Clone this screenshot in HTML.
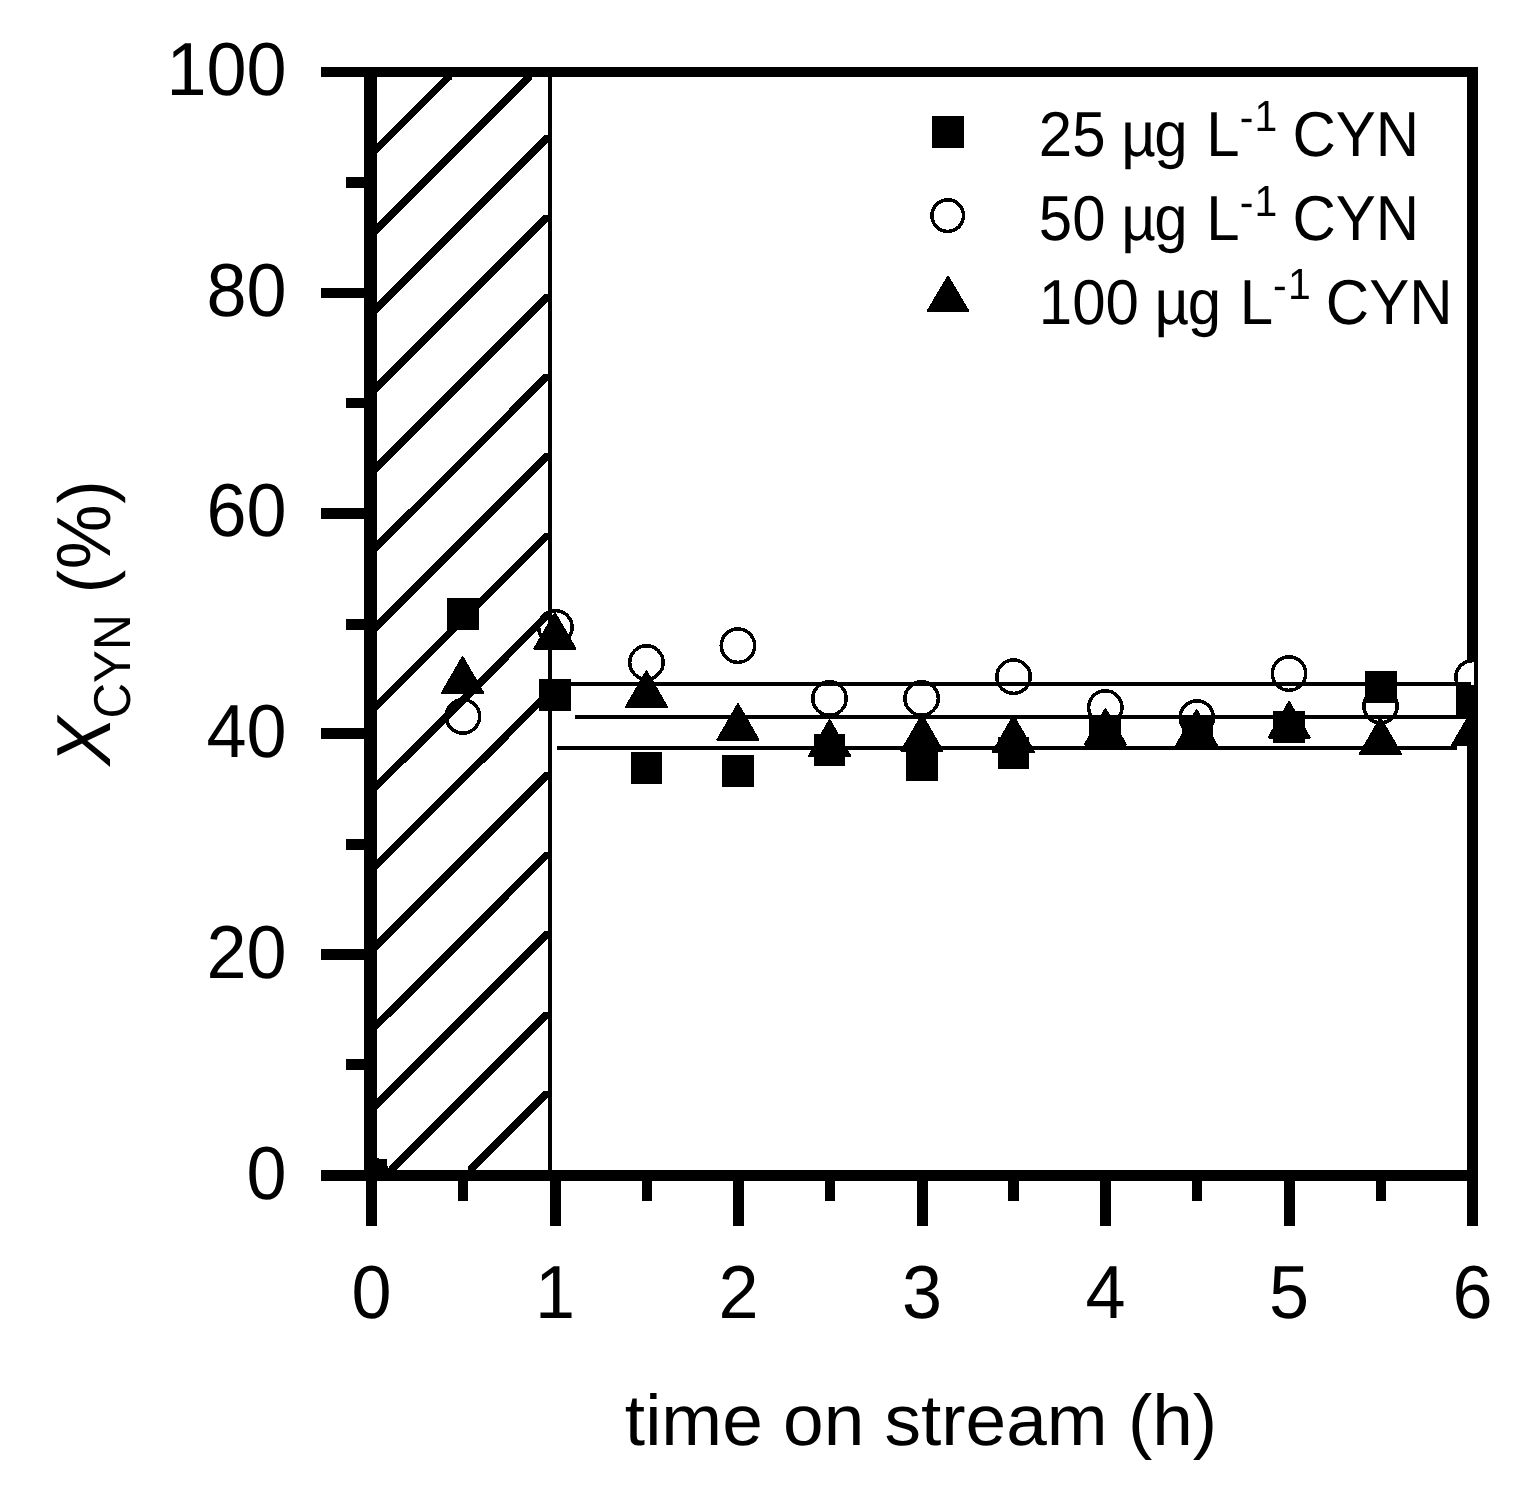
<!DOCTYPE html>
<html lang="en"><head><meta charset="utf-8">
<title>CYN conversion vs time on stream</title>
<style>
html,body{margin:0;padding:0;background:#fff;}
body{width:1527px;height:1492px;overflow:hidden;}
svg{display:block;}
text{font-family:"Liberation Sans",sans-serif;fill:#000;text-rendering:geometricPrecision;}
.tick{font-size:72px;}
.leg{font-size:60px;}
.ttl{font-size:73px;}
</style></head><body>
<svg width="1527" height="1492" viewBox="0 0 1527 1492" shape-rendering="crispEdges">
<rect x="0" y="0" width="1527" height="1492" fill="#fff"/>
<defs>
<clipPath id="pclip"><rect x="371" y="70" width="1103" height="1106"/></clipPath>
</defs>
<g fill="#000" shape-rendering="crispEdges">
<rect x="321" y="67" width="1157" height="10"/>
<rect x="321" y="1170" width="1157" height="11"/>
<rect x="366" y="67" width="11" height="1159"/>
<rect x="1467" y="67" width="11" height="1159"/>
<rect x="346" y="177" width="20" height="11"/>
<rect x="321" y="288" width="45" height="10"/>
<rect x="346" y="398" width="20" height="10"/>
<rect x="321" y="508" width="45" height="11"/>
<rect x="346" y="619" width="20" height="11"/>
<rect x="321" y="728" width="45" height="11"/>
<rect x="346" y="839" width="20" height="11"/>
<rect x="321" y="949" width="45" height="11"/>
<rect x="346" y="1059" width="20" height="11"/>
<rect x="458" y="1181" width="10" height="20"/>
<rect x="550" y="1181" width="11" height="45"/>
<rect x="642" y="1181" width="10" height="20"/>
<rect x="733" y="1181" width="11" height="45"/>
<rect x="825" y="1181" width="10" height="20"/>
<rect x="917" y="1181" width="11" height="45"/>
<rect x="1008" y="1181" width="11" height="20"/>
<rect x="1100" y="1181" width="11" height="45"/>
<rect x="1192" y="1181" width="10" height="20"/>
<rect x="1284" y="1181" width="11" height="45"/>
<rect x="1376" y="1181" width="10" height="20"/>
</g>
<g clip-path="url(#pclip)">
<g fill="#fff" stroke="#000" stroke-width="3.5">
<circle cx="371.5" cy="1175.5" r="16.7"/>
<circle cx="462.90" cy="716.40" r="16.7"/>
<circle cx="555.40" cy="627.30" r="16.7"/>
<circle cx="646.45" cy="662.50" r="16.7"/>
<circle cx="737.95" cy="645.65" r="16.7"/>
<circle cx="829.50" cy="698.50" r="16.7"/>
<circle cx="921.60" cy="698.50" r="16.7"/>
<circle cx="1013.55" cy="676.65" r="16.7"/>
<circle cx="1105.30" cy="707.50" r="16.7"/>
<circle cx="1196.80" cy="717.55" r="16.7"/>
<circle cx="1289.00" cy="673.60" r="16.7"/>
<circle cx="1380.50" cy="706.10" r="16.7"/>
<circle cx="1472.50" cy="677.40" r="16.7"/>
</g>
<g fill="#000">
<rect x="356" y="1159" width="31" height="31"/>
<rect x="447" y="598" width="32" height="32"/>
<rect x="539" y="679" width="32" height="32"/>
<rect x="631" y="752" width="31" height="32"/>
<rect x="722" y="755" width="32" height="32"/>
<rect x="814" y="734" width="31" height="32"/>
<rect x="906" y="749" width="32" height="32"/>
<rect x="998" y="737" width="31" height="32"/>
<rect x="1089" y="716" width="32" height="32"/>
<rect x="1181.5" y="716" width="31.5" height="32"/>
<rect x="1273" y="711" width="32" height="32"/>
<rect x="1365" y="671" width="32" height="32"/>
<rect x="1456" y="685" width="32" height="32"/>
</g>
<g fill="#000" stroke="#000" stroke-width="2" stroke-linejoin="round">
<path d="M462.60 657.10L483.15 692.70L442.05 692.70Z"/>
<path d="M554.90 613.10L575.45 648.70L534.35 648.70Z"/>
<path d="M646.50 671.30L667.05 706.90L625.95 706.90Z"/>
<path d="M738.00 704.20L758.55 739.80L717.45 739.80Z"/>
<path d="M829.60 720.10L850.15 755.70L809.05 755.70Z"/>
<path d="M922.00 715.20L942.55 750.80L901.45 750.80Z"/>
<path d="M1013.50 716.10L1034.05 751.70L992.95 751.70Z"/>
<path d="M1105.40 709.00L1125.95 744.60L1084.85 744.60Z"/>
<path d="M1196.60 710.10L1217.15 745.70L1176.05 745.70Z"/>
<path d="M1289.10 701.90L1309.65 737.50L1268.55 737.50Z"/>
<path d="M1380.45 718.10L1401.00 753.70L1359.90 753.70Z"/>
<path d="M1472.50 709.80L1493.05 745.40L1451.95 745.40Z"/>
</g>
</g>
<g fill="#000" stroke="none">
<polygon points="366.3,159.3 371.7,159.3 451.5,79.5 451.5,74.1 446.1,74.1 366.3,153.9"/>
<polygon points="366.3,239.4 371.7,239.4 531.6,79.5 531.6,74.1 526.2,74.1 366.3,234.0"/>
<polygon points="366.3,318.5 371.7,318.5 549.7,140.5 549.7,135.1 544.3,135.1 366.3,313.1"/>
<polygon points="366.3,398.0 371.7,398.0 549.7,220.0 549.7,214.6 544.3,214.6 366.3,392.6"/>
<polygon points="366.3,477.4 371.7,477.4 549.7,299.4 549.7,294.0 544.3,294.0 366.3,472.0"/>
<polygon points="366.3,557.1 371.7,557.1 549.7,379.1 549.7,373.7 544.3,373.7 366.3,551.7"/>
<polygon points="366.3,636.8 371.7,636.8 549.7,458.7 549.7,453.3 544.3,453.3 366.3,631.3"/>
<polygon points="366.3,716.2 371.7,716.2 549.7,538.2 549.7,532.8 544.3,532.8 366.3,710.8"/>
<polygon points="366.3,796.3 371.7,796.3 549.7,618.3 549.7,612.9 544.3,612.9 366.3,790.9"/>
<polygon points="366.3,875.3 371.7,875.3 549.7,697.3 549.7,691.9 544.3,691.9 366.3,869.9"/>
<polygon points="366.3,955.4 371.7,955.4 549.7,777.4 549.7,772.0 544.3,772.0 366.3,950.0"/>
<polygon points="366.3,1035.3 371.7,1035.3 549.7,857.3 549.7,851.9 544.3,851.9 366.3,1029.9"/>
<polygon points="366.3,1114.4 371.7,1114.4 549.7,936.4 549.7,931.0 544.3,931.0 366.3,1109.0"/>
<polygon points="388.6,1172.7 394.0,1172.7 549.7,1017.0 549.7,1011.6 544.3,1011.6 388.6,1167.3"/>
<polygon points="467.5,1172.7 472.9,1172.7 549.7,1095.9 549.7,1090.5 544.3,1090.5 467.5,1167.3"/>
</g>
<g fill="#000" shape-rendering="crispEdges">
<rect x="364" y="72" width="4" height="1103"/>
<rect x="548" y="72" width="4" height="1103"/>
<rect x="552" y="682" width="919" height="4"/>
<rect x="575" y="715" width="895" height="4"/>
<rect x="557" y="746" width="900" height="4"/>
</g>
<text class="tick" text-anchor="end" transform="translate(286.6 1198.5) scale(1 1.045)">0</text>
<text class="tick" text-anchor="end" transform="translate(286.6 977.8) scale(1 1.045)">20</text>
<text class="tick" text-anchor="end" transform="translate(286.6 757.1) scale(1 1.045)">40</text>
<text class="tick" text-anchor="end" transform="translate(286.6 536.4) scale(1 1.045)">60</text>
<text class="tick" text-anchor="end" transform="translate(286.6 315.7) scale(1 1.045)">80</text>
<text class="tick" text-anchor="end" transform="translate(286.6 95.0) scale(1 1.045)">100</text>
<text class="tick" text-anchor="middle" transform="translate(371.5 1318.0) scale(1 1.045)">0</text>
<text class="tick" text-anchor="middle" transform="translate(555.0 1318.0) scale(1 1.045)">1</text>
<text class="tick" text-anchor="middle" transform="translate(738.5 1318.0) scale(1 1.045)">2</text>
<text class="tick" text-anchor="middle" transform="translate(922.0 1318.0) scale(1 1.045)">3</text>
<text class="tick" text-anchor="middle" transform="translate(1105.5 1318.0) scale(1 1.045)">4</text>
<text class="tick" text-anchor="middle" transform="translate(1289.0 1318.0) scale(1 1.045)">5</text>
<text class="tick" text-anchor="middle" transform="translate(1472.5 1318.0) scale(1 1.045)">6</text>
<text class="ttl" text-anchor="middle" transform="translate(921.0 1444.5) scale(1 0.985)">time on stream (h)</text>
<text class="ttl" text-anchor="start" transform="translate(109.9 765.5) rotate(-90) scale(1 1.050)"><tspan font-style="italic">X</tspan><tspan font-size="49.4" dy="19.4" dx="-1.8">CYN</tspan><tspan dy="-19.4" dx="0.8"> </tspan><tspan font-size="70">(</tspan><tspan dx="0.6">%</tspan><tspan font-size="70" dx="0.6">)</tspan></text>
<g fill="#000"><rect x="932" y="116" width="32" height="32" shape-rendering="crispEdges"/></g>
<circle cx="947.7" cy="215.6" r="15.8" fill="#fff" stroke="#000" stroke-width="3.5"/>
<path d="M948 276.7L968.3 310.9L927.7 310.9Z" fill="#000" stroke="#000" stroke-width="2" stroke-linejoin="round"/>
<text class="leg" text-anchor="start" transform="translate(1038.8 155.7) scale(1 1.060)">25 <tspan dx="-1">µ</tspan><tspan dx="-1.5">g</tspan><tspan dx="2"> L</tspan><tspan font-size="41" dy="-22.4">-</tspan><tspan font-size="41" dy="-1" dx="1.2">1</tspan><tspan dy="23.4" dx="-1.6"> CYN</tspan></text>
<text class="leg" text-anchor="start" transform="translate(1038.8 240.3) scale(1 1.060)">50 <tspan dx="-1">µ</tspan><tspan dx="-1.5">g</tspan><tspan dx="2"> L</tspan><tspan font-size="41" dy="-22.4">-</tspan><tspan font-size="41" dy="-1" dx="1.2">1</tspan><tspan dy="23.4" dx="-1.6"> CYN</tspan></text>
<text class="leg" text-anchor="start" transform="translate(1038.8 324.0) scale(1 1.060)">100 <tspan dx="-1">µ</tspan><tspan dx="-1.5">g</tspan><tspan dx="2"> L</tspan><tspan font-size="41" dy="-22.4">-</tspan><tspan font-size="41" dy="-1" dx="1.2">1</tspan><tspan dy="23.4" dx="-1.6"> CYN</tspan></text>
</svg>
</body></html>
